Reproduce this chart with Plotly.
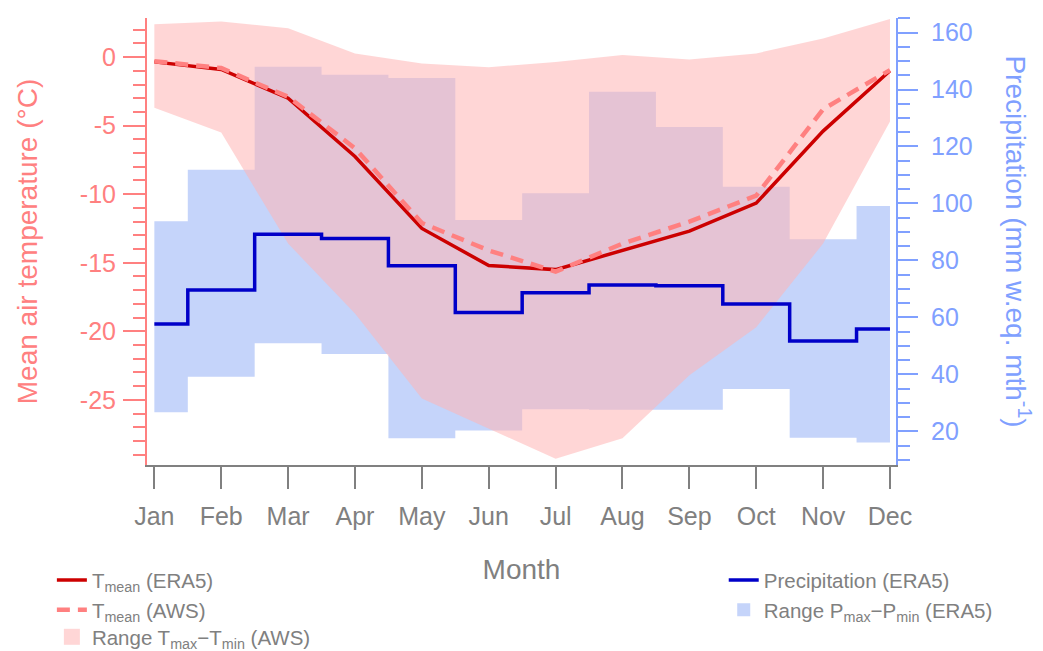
import plotly.graph_objects as go

# ---------------- data ----------------
months = ["Jan", "Feb", "Mar", "Apr", "May", "Jun", "Jul", "Aug", "Sep", "Oct", "Nov", "Dec"]
month_num = [1, 2, 3, 4, 5, 6, 7, 8, 9, 10, 11, 12]

t_mean_era5 = [-0.35, -0.9, -3.0, -7.25, -12.5, -15.2, -15.5, -14.1, -12.7, -10.65, -5.4, -1.0]
t_mean_aws = [-0.3, -0.8, -2.9, -6.65, -12.1, -14.1, -15.65, -13.6, -12.0, -10.1, -3.8, -0.95]
t_max_aws = [2.4, 2.6, 2.1, 0.27, -0.46, -0.75, -0.35, 0.15, -0.17, 0.27, 1.36, 2.77]
t_min_aws = [-3.7, -5.5, -13.6, -18.7, -24.9, -27.1, -29.3, -27.8, -23.2, -19.7, -13.6, -4.7]

p_mean_era5 = [57.7, 69.6, 89.2, 87.7, 78.1, 61.7, 68.7, 71.4, 71.1, 64.7, 51.7, 55.9]
p_max_era5 = [93.8, 111.8, 148.0, 145.2, 144.0, 94.2, 103.6, 139.2, 126.8, 105.9, 87.4, 99.1]
p_min_era5 = [26.7, 39.2, 50.9, 47.2, 17.6, 20.3, 27.8, 27.6, 27.6, 34.9, 17.8, 16.1]

temp_tickvals = [-25, -20, -15, -10, -5, 0]
temp_ticktext = ["-25", "-20", "-15", "-10", "-5", "0"]

temp_range = [-29.75, 2.85]
precip_range = [8.2, 165.1]
x_range = [0.89, 12.09]

# ---------------- style ----------------
FONT = "Liberation Sans, Arial, sans-serif"
GRAY = "#808080"
SALMON = "#FF8080"
LBLUE = "#80A0FF"
DARKRED = "#CC0000"
DARKBLUE = "#0000C8"
PINK_FILL = "rgba(255,180,180,0.55)"
BLUE_FILL = "#C5D4FA"
TICK_SIZE = 25
TITLE_SIZE = 28
LEG_SIZE = 20.5

fig = go.Figure()

# precipitation range band (bottom layer)
fig.add_trace(go.Scatter(x=month_num, y=p_max_era5, yaxis="y", mode="lines",
                         line=dict(width=0, shape="hvh"), showlegend=False, hoverinfo="skip"))
fig.add_trace(go.Scatter(x=month_num, y=p_min_era5, yaxis="y", mode="lines",
                         line=dict(width=0, shape="hvh"), fill="tonexty", fillcolor=BLUE_FILL,
                         showlegend=False, hoverinfo="skip"))

# temperature range band
fig.add_trace(go.Scatter(x=month_num, y=t_max_aws, yaxis="y2", mode="lines",
                         line=dict(width=0), showlegend=False, hoverinfo="skip"))
fig.add_trace(go.Scatter(x=month_num, y=t_min_aws, yaxis="y2", mode="lines",
                         line=dict(width=0), fill="tonexty", fillcolor=PINK_FILL,
                         showlegend=False, hoverinfo="skip"))

# precipitation line
fig.add_trace(go.Scatter(x=month_num, y=p_mean_era5, yaxis="y3", mode="lines",
                         line=dict(color=DARKBLUE, width=3.5, shape="hvh"),
                         name="Precipitation (ERA5)", legend="legend2", legendrank=1))

# temperature lines
fig.add_trace(go.Scatter(x=month_num, y=t_mean_era5, yaxis="y4", mode="lines",
                         line=dict(color=DARKRED, width=3.5),
                         name="T<sub>mean</sub> (ERA5)", legend="legend", legendrank=1))
fig.add_trace(go.Scatter(x=month_num, y=t_mean_aws, yaxis="y4", mode="lines",
                         line=dict(color=SALMON, width=4.5, dash="13px,8px"),
                         name="T<sub>mean</sub> (AWS)", legend="legend", legendrank=2))

# legend-only entries for the bands
fig.add_trace(go.Scatter(x=[None], y=[None], yaxis="y4", mode="markers",
                         marker=dict(symbol="square", size=16, color="#FFD6D6"),
                         name="Range T<sub>max</sub>\u2212T<sub>min</sub> (AWS)",
                         legend="legend3"))
fig.add_trace(go.Scatter(x=[None], y=[None], yaxis="y3", mode="markers",
                         marker=dict(symbol="square", size=13, color=BLUE_FILL),
                         name="Range P<sub>max</sub>\u2212P<sub>min</sub> (ERA5)",
                         legend="legend2", legendrank=2))

leg_font = dict(size=LEG_SIZE, color=GRAY, family=FONT)

fig.update_layout(
    width=1043, height=651,
    margin=dict(l=139, r=155, t=10, b=194, autoexpand=False),
    paper_bgcolor="white", plot_bgcolor="white",
    font=dict(family=FONT, color=GRAY),
    xaxis=dict(
        range=x_range, tickmode="array", tickvals=month_num, ticktext=months,
        showline=True, linecolor=GRAY, linewidth=2, mirror=False,
        ticks="outside", ticklen=22, tickwidth=2, tickcolor=GRAY,
        ticklabelstandoff=6,
        tickfont=dict(size=TICK_SIZE, color=GRAY, family=FONT),
        showgrid=False, zeroline=False,
        title=dict(text="Month", font=dict(size=TITLE_SIZE, color=GRAY, family=FONT), standoff=30),
    ),
    yaxis=dict(
        side="right", range=precip_range, tick0=0, dtick=20,
        showline=True, linecolor=LBLUE, linewidth=2,
        ticks="outside", ticklen=20, tickwidth=2, tickcolor=LBLUE,
        ticklabelstandoff=8,
        minor=dict(dtick=5, ticks="outside", ticklen=12, tickwidth=2, tickcolor=LBLUE),
        tickfont=dict(size=TICK_SIZE, color=LBLUE, family=FONT),
        showgrid=False, zeroline=False,
    ),
    yaxis2=dict(
        overlaying="y", side="left", range=temp_range,
        tickmode="array", tickvals=temp_tickvals, ticktext=temp_ticktext,
        showline=True, linecolor=SALMON, linewidth=2,
        ticks="outside", ticklen=22, tickwidth=2, tickcolor=SALMON,
        ticklabelstandoff=2,
        minor=dict(dtick=1, tick0=0, ticks="outside", ticklen=12, tickwidth=2, tickcolor=SALMON),
        tickfont=dict(size=TICK_SIZE, color=SALMON, family=FONT),
        showgrid=False, zeroline=False,
        title=dict(text="Mean air temperature (\u00b0C)",
                   font=dict(size=TITLE_SIZE, color=SALMON, family=FONT), standoff=34),
    ),
    yaxis3=dict(overlaying="y", range=precip_range, visible=False),
    yaxis4=dict(overlaying="y", range=temp_range, visible=False),
    legend=dict(x=-0.127, y=-0.213, xanchor="left", yanchor="top", traceorder="normal",
                font=leg_font, bgcolor="rgba(0,0,0,0)"),
    legend2=dict(x=0.770, y=-0.213, xanchor="left", yanchor="top", traceorder="normal",
                 font=leg_font, bgcolor="rgba(0,0,0,0)"),
    legend3=dict(x=-0.127, y=-0.340, xanchor="left", yanchor="top", traceorder="normal",
                 font=leg_font, bgcolor="rgba(0,0,0,0)"),
    annotations=[dict(
        text="Precipitation (mm w.eq. mth<sup>-1</sup>)", textangle=90,
        xref="paper", yref="paper", x=1.163, y=0.5, xanchor="center", yanchor="middle",
        showarrow=False, font=dict(size=TITLE_SIZE, color=LBLUE, family=FONT),
    )],
)

fig.write_html("out.html")
